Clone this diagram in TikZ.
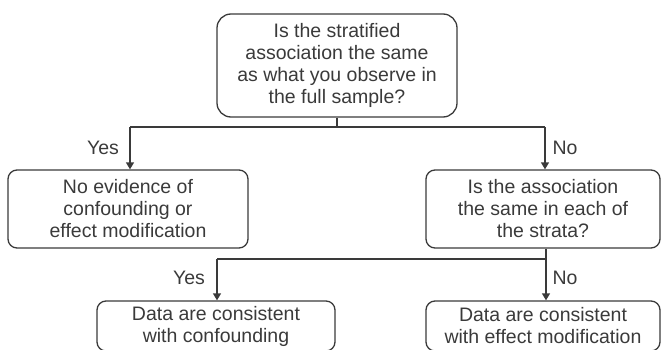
\documentclass[tikz,border=0pt]{standalone}
\usepackage{fontspec}
\setmainfont{Liberation Sans}
\usepackage{xcolor}
\usetikzlibrary{arrows.meta}
\definecolor{inkgray}{HTML}{3A3A3A}

\begin{document}
\begin{tikzpicture}[x=1pt, y=-1pt,
        every node/.style={font=\fontsize{19.5}{22}\selectfont, text=inkgray},
        box/.style={draw=inkgray, line width=1.3pt, rounded corners=9pt,
        align=center, inner sep=0pt},
        link/.style={draw=inkgray, line width=1.3pt},
        arr/.style={link, -{Triangle[width=8pt, length=7pt]}}]
        \useasboundingbox (0,0) rectangle (661,350);
        \clip (0,0) rectangle (661,350);

        \node[box, rounded corners=14pt, minimum width=240pt, minimum height=103pt] (Q1) at (337,65.5)
            {Is the stratified\\association the same\\as what you observe in\\the full sample?};
        \node[box, minimum width=240pt, minimum height=78pt] (NoEv) at (128,209)
            {No evidence of\\confounding or\\effect modification};
        \node[box, minimum width=234pt, minimum height=78pt] (Q2) at (543,209)
            {Is the association\\the same in each of\\the strata?};
        \node[box, minimum width=238pt, minimum height=50pt] (Conf) at (216,326)
            {Data are consistent\\with confounding};
        \node[box, minimum width=234pt, minimum height=50pt] (EffMod) at (543,326)
            {Data are consistent\\with effect modification};

        \node (Yes1) at (103,148) {Yes};
        \node (No1) at (565,148) {No};
        \node (Yes2) at (189,278) {Yes};
        \node (No2) at (565,278) {No};

        \coordinate (J1) at (337,127);
        \coordinate (L1) at (130,127);
        \coordinate (R1) at (545,127);
        \coordinate (J2) at (546,259);
        \coordinate (L2) at (217,259);

        \draw[link] (Q1) -- (J1);
        \draw[link] (L1) -- (R1);
        \draw[arr] (L1) -- (L1 |- NoEv.north);
        \draw[arr] (R1) -- (R1 |- Q2.north);
        \draw[link] (J2 |- Q2.south) -- (J2);
        \draw[link] (L2) -- (J2);
        \draw[arr] (L2) -- (L2 |- Conf.north);
        \draw[arr] (J2) -- (J2 |- EffMod.north);
    \end{tikzpicture}
\end{document}
